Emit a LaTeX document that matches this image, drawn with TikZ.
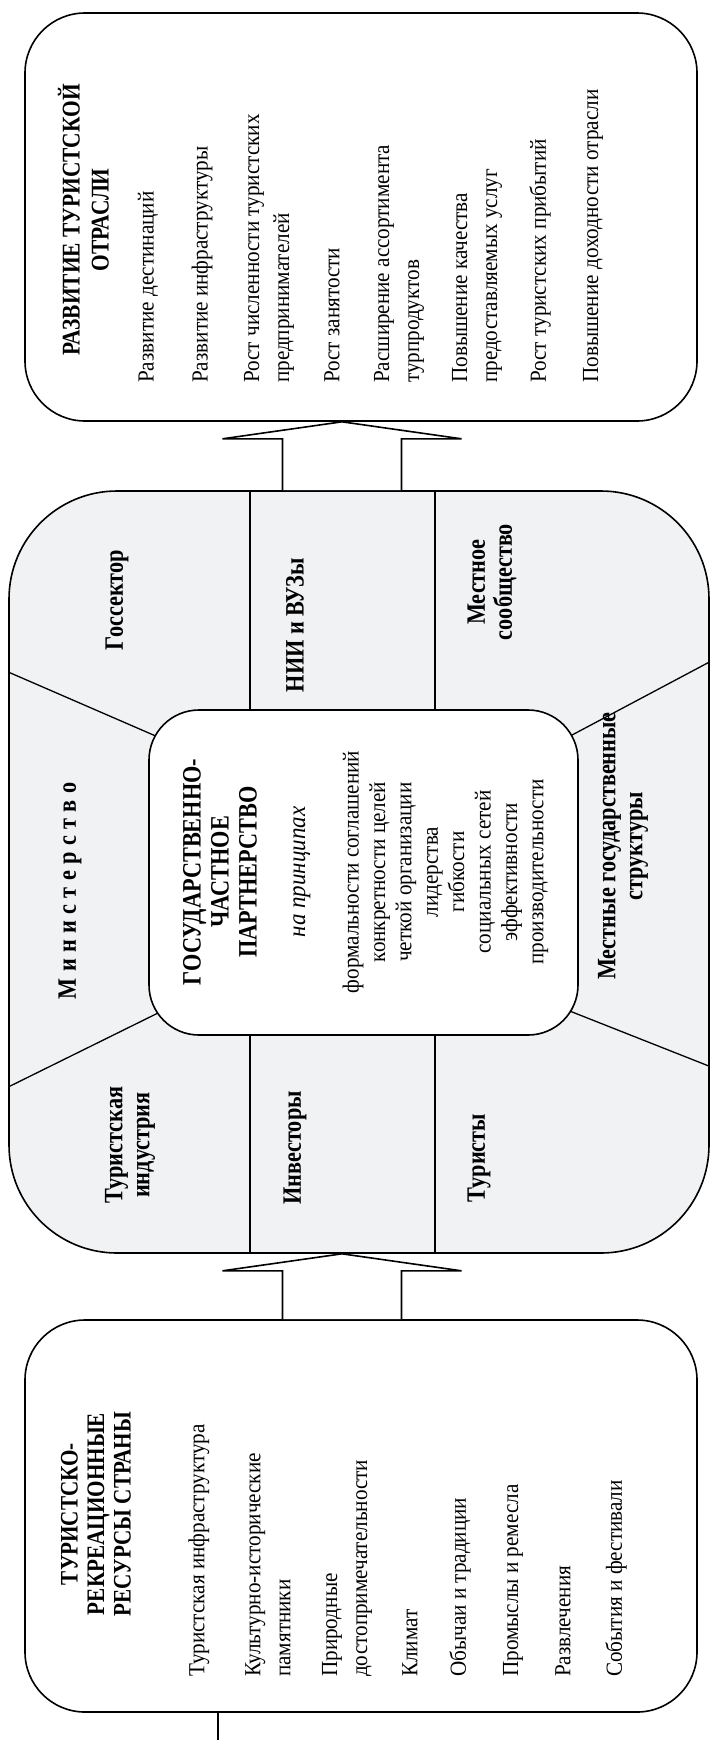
\documentclass[tikz,border=0pt]{standalone}
\usepackage{fontspec}
\setmainfont{Liberation Serif}[FakeStretch=0.92]
\newfontfamily\boldfam{Liberation Serif}[FakeStretch=0.84]
\usetikzlibrary{calc}
\definecolor{midgray}{RGB}{241,242,244}
\begin{document}
\begin{tikzpicture}[x=1pt,y=-1pt,
  boxstyle/.style={draw, line width=1.6pt, fill=white, inner sep=0pt},
  itemtext/.style={rotate=90, anchor=west, align=left, inner sep=0pt, font=\fontsize{23}{30}\selectfont},
  headtext/.style={rotate=90, align=center, inner sep=0pt},
  sectortext/.style={rotate=90, align=center, inner sep=0pt, font=\boldfam\bfseries\fontsize{26.5}{27}\selectfont},
  divider/.style={line width=1.3pt},
  bigarrow/.style={draw, fill=white, line width=1.6pt, line join=miter}]
\useasboundingbox (0,0) rectangle (718,1740);
\fill[white] (0,0) rectangle (718,1740);

% ---------- boxes ----------
\node[boxstyle, minimum width=672pt, minimum height=408pt, rounded corners=60pt] (top) at (361,217) {};
\node[boxstyle, fill=midgray, minimum width=700pt, minimum height=762pt, rounded corners=108pt] (mid) at (359,872) {};
\node[boxstyle, minimum width=672pt, minimum height=392pt, rounded corners=60pt] (bot) at (361,1516) {};

% ---------- sector dividers ----------
\coordinate (ulA) at (mid.west |- 0,672);
\coordinate (ulB) at (173,743.5);
\coordinate (llA) at (mid.west |- 0,1087);
\coordinate (llB) at (173,1005.6);
\coordinate (urA) at (mid.east |- 0,661.8);
\coordinate (urB) at (557,743);
\coordinate (lrA) at (mid.east |- 0,1066.4);
\coordinate (lrB) at (557,1006);
\draw[divider] (ulA) -- (ulB);
\draw[divider] (llA) -- (llB);
\draw[divider] (urA) -- (urB);
\draw[divider] (lrA) -- (lrB);

\node[boxstyle, minimum width=429pt, minimum height=325pt, rounded corners=50pt] (ppp) at (363.5,872.5) {};

\draw[divider] (mid.north -| 250,0) -- (ppp.north -| 250,0);
\draw[divider] (mid.north -| 435,0) -- (ppp.north -| 435,0);
\draw[divider] (ppp.south -| 250,0) -- (mid.south -| 250,0);
\draw[divider] (ppp.south -| 435,0) -- (mid.south -| 435,0);

% ---------- arrows ----------
\coordinate (t1) at (top.south -| 342,0);
\coordinate (b1) at (mid.north -| 342,0);
\coordinate (t2) at (mid.south -| 342,0);
\coordinate (b2) at (bot.north -| 342,0);
\draw[bigarrow] ($(b1)+(-59.5,0)$) -- ($(t1)+(-59.5,17)$) -- ($(t1)+(-119.5,17)$) -- (t1)
  -- ($(t1)+(119.5,17)$) -- ($(t1)+(59.5,17)$) -- ($(b1)+(59.5,0)$);
\draw[bigarrow] ($(b2)+(-59.5,0)$) -- ($(t2)+(-59.5,17)$) -- ($(t2)+(-119.5,17)$) -- (t2)
  -- ($(t2)+(119.5,17)$) -- ($(t2)+(59.5,17)$) -- ($(b2)+(59.5,0)$);

% tail line below bottom box
\coordinate (tail) at (218,1740);
\draw[line width=1.6pt] (bot.south -| tail) -- (tail);

% ---------- top box text ----------
\node[headtext, font=\boldfam\bfseries\fontsize{25.5}{29}\selectfont] (toptitle) at (83.5,220) {РАЗВИТИЕ ТУРИСТСКОЙ\\ОТРАСЛИ};
\node[itemtext] (t-a) at (148,383) {Развитие дестинаций};
\node[itemtext] (t-b) at (202,383) {Развитие инфраструктуры};
\node[itemtext] (t-c) at (269,383) {Рост численности туристских\\предпринимателей};
\node[itemtext] (t-d) at (332,383) {Рост занятости};
\node[itemtext] (t-e) at (399,383) {Расширение ассортимента\\турпродуктов};
\node[itemtext] (t-f) at (477,383) {Повышение качества\\предоставляемых услуг};
\node[itemtext] (t-g) at (540,383) {Рост туристских прибытий};
\node[itemtext] (t-h) at (593,383) {Повышение доходности отрасли};

% ---------- bottom box text ----------
\node[headtext, font=\boldfam\bfseries\fontsize{25.2}{26.5}\selectfont] (bottitle) at (96,1514) {ТУРИСТСКО-\\РЕКРЕАЦИОННЫЕ\\РЕСУРСЫ СТРАНЫ};
\node[itemtext] (b-a) at (199,1677) {Туристская инфраструктура};
\node[itemtext] (b-b) at (268,1677) {Культурно-исторические\\памятники};
\node[itemtext] (b-c) at (347,1677) {Природные\\достопримечательности};
\node[itemtext] (b-d) at (410,1677) {Климат};
\node[itemtext] (b-e) at (460,1677) {Обычаи и традиции};
\node[itemtext] (b-f) at (513,1677) {Промыслы и ремесла};
\node[itemtext] (b-g) at (563,1677) {Развлечения};
\node[itemtext] (b-h) at (616,1677) {События и фестивали};

% ---------- sector labels ----------
\node[sectortext] (s-gos) at (117,600) {Госсектор};
\node[sectortext] (s-nii) at (295,625) {НИИ и ВУЗы};
\node[sectortext] (s-mso) at (492,582) {Местное\\сообщество};
\node[sectortext] (s-min) at (70,891) {\addfontfeatures{LetterSpace=24}Министерство};
\node[sectortext] (s-mgs) at (623,846) {Местные государственные\\структуры};
\node[sectortext] (s-tin) at (130,1145) {Туристская\\индустрия};
\node[sectortext] (s-inv) at (295,1148) {Инвесторы};
\node[sectortext] (s-tur) at (479,1158) {Туристы};

% ---------- centre text ----------
\node[headtext, font=\boldfam\bfseries\fontsize{26.5}{28}\selectfont] (ptitle) at (220,872) {ГОСУДАРСТВЕННО-\\ЧАСТНОЕ\\ПАРТНЕРСТВО};
\node[rotate=90, inner sep=0pt, font=\itshape\fontsize{25}{26}\selectfont] (pprin) at (302,872) {на принципах};
\node[rotate=90, align=center, inner sep=0pt, font=\fontsize{23}{26.4}\selectfont] (plist) at (445.5,872)
 {формальности соглашений\\конкретности целей\\четкой организации\\лидерства\\гибкости\\социальных сетей\\эффективности\\производительности};
\end{tikzpicture}
\end{document}
